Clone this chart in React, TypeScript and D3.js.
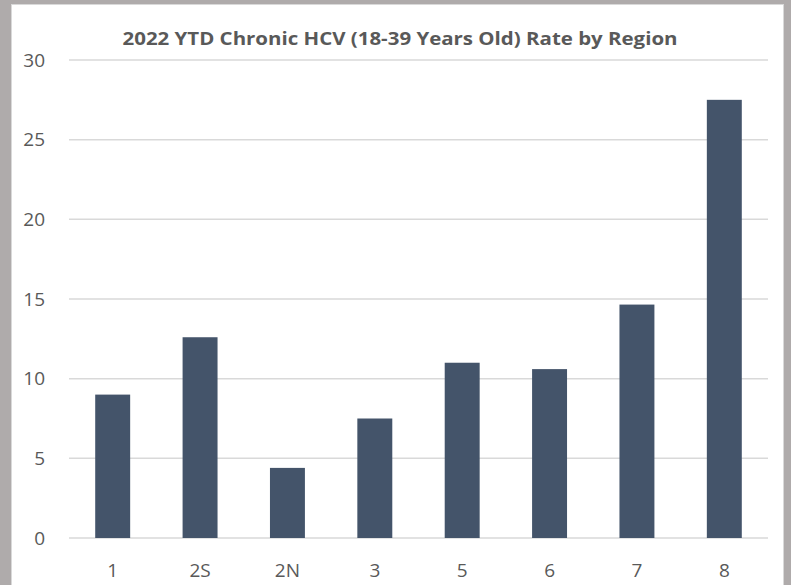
import React from 'react';
import * as d3 from 'd3';

const regions = ['1', '2S', '2N', '3', '5', '6', '7', '8'];
const rates = [9.0, 12.6, 4.4, 7.5, 11.0, 10.6, 14.65, 27.5];
const yTicks = [0, 5, 10, 15, 20, 25, 30];
const title = '2022 YTD Chronic HCV (18-39 Years Old) Rate by Region';

const W = 791;
const H = 585;

const App: React.FC = () => {
  const svgRef = React.useRef<SVGSVGElement>(null);

  React.useEffect(() => {
    if (!svgRef.current) return;
    const svg = d3.select(svgRef.current);
    svg.selectAll('*').remove();

    const font = 'Open Sans, Liberation Sans, sans-serif';
    const margin = { top: 60, right: 23, bottom: 47, left: 69 };
    const plotW = W - margin.left - margin.right;
    const plotH = H - margin.top - margin.bottom;

    // gray frame around the chart area
    svg.append('rect').attr('width', W).attr('height', H).attr('fill', '#afabab');
    svg.append('rect')
      .attr('x', 11.5).attr('y', 4.5)
      .attr('width', 772).attr('height', H)
      .attr('fill', '#fff')
      .attr('stroke', '#d9d9d9')
      .attr('stroke-width', 1);

    const x = d3.scaleBand()
      .domain(regions)
      .range([0, plotW])
      .paddingInner(0.6)
      .paddingOuter(0.3);

    const y = d3.scaleLinear().domain([0, 30]).range([plotH, 0]);

    const g = svg.append('g').attr('transform', `translate(${margin.left},${margin.top})`);

    // grid lines
    g.selectAll('.grid')
      .data(yTicks)
      .enter().append('line')
      .attr('x1', 0)
      .attr('x2', plotW)
      .attr('y1', d => y(d))
      .attr('y2', d => y(d))
      .attr('stroke', '#d9d9d9')
      .attr('stroke-width', 1.5);

    // y labels
    g.selectAll('.ylab')
      .data(yTicks)
      .enter().append('text')
      .attr('x', -24)
      .attr('y', d => y(d))
      .attr('dy', '0.35em')
      .attr('text-anchor', 'end')
      .attr('font-family', font)
      .attr('font-size', '19px')
      .attr('fill', '#595959')
      .text(d => d);

    // bars
    g.selectAll('.bar')
      .data(rates)
      .enter().append('rect')
      .attr('x', (_, i) => x(regions[i]) || 0)
      .attr('y', d => y(d))
      .attr('width', x.bandwidth())
      .attr('height', d => plotH - y(d))
      .attr('fill', '#44546a');

    // x labels
    g.selectAll('.xlab')
      .data(regions)
      .enter().append('text')
      .attr('x', d => (x(d) || 0) + x.bandwidth() / 2)
      .attr('y', plotH + 32)
      .attr('dy', '0.35em')
      .attr('text-anchor', 'middle')
      .attr('font-family', font)
      .attr('font-size', '19px')
      .attr('fill', '#595959')
      .text(d => d);

    // title
    svg.append('text')
      .attr('x', 400)
      .attr('y', 45)
      .attr('text-anchor', 'middle')
      .attr('font-family', font)
      .attr('font-size', '18px')
      .attr('font-weight', 'bold')
      .attr('fill', '#595959')
      .attr('textLength', 555)
      .attr('lengthAdjust', 'spacingAndGlyphs')
      .text(title);
  }, []);

  return (
    <svg
      ref={svgRef}
      width={W}
      height={H}
      style={{ position: 'absolute', left: 0, top: 0, display: 'block' }}
    />
  );
};

export default App;
